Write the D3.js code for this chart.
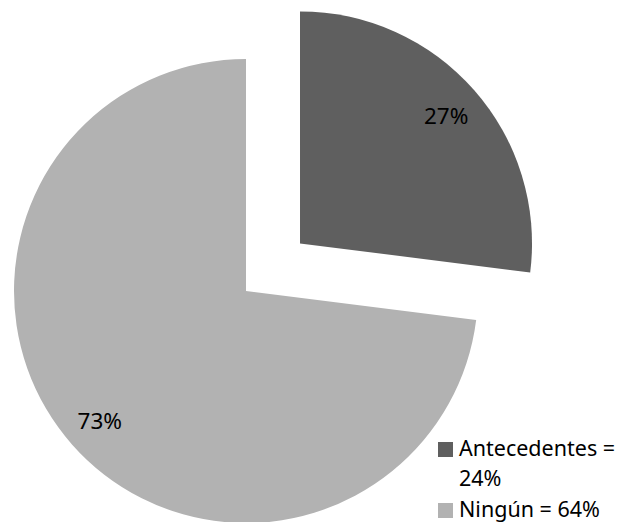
<!DOCTYPE html>
<html>
<head>
<meta charset="utf-8">
<script src="https://cdn.jsdelivr.net/npm/d3@7"></script>
<style>
  html, body { margin: 0; padding: 0; background: #fff; }
  svg { display: block; }
  text { font-family: "Noto Sans", "Open Sans", sans-serif; fill: #000; }
</style>
</head>
<body>
<svg id="chart" width="634" height="522"></svg>
<script>
// Slice categories and their shares (percent)
const categories = ["Antecedentes", "Ningún"];
const values = [27, 73];
const sliceLabels = ["27%", "73%"];
// Legend entries as printed
const legendLines = [["Antecedentes =", "24%"], ["Ningún = 64%"]];
const colors = ["#5f5f5f", "#b2b2b2"];

const svg = d3.select("#chart");
const cx = 246, cy = 291, radius = 232;
const explode = 72;

const pie = d3.pie().sort(null).value(d => d)(values);
const arc = d3.arc().innerRadius(0).outerRadius(radius);
const labelR = radius * 0.84;
const labelArc = d3.arc().innerRadius(labelR).outerRadius(labelR);

const g = svg.append("g").attr("transform", `translate(${cx},${cy})`);

const slices = g.selectAll("g.slice")
  .data(pie)
  .join("g")
  .attr("class", "slice")
  .attr("transform", (d, i) => {
    if (i !== 0) return null;
    const mid = (d.startAngle + d.endAngle) / 2;
    return `translate(${explode * Math.sin(mid)},${-explode * Math.cos(mid)})`;
  });

slices.append("path")
  .attr("d", arc)
  .attr("fill", (d, i) => colors[i]);

slices.append("text")
  .attr("transform", d => `translate(${labelArc.centroid(d)})`)
  .attr("text-anchor", "middle")
  .attr("dy", "0.4em")
  .style("font-size", "22.5px")
  .text((d, i) => sliceLabels[i]);

// Legend
const legend = svg.append("g").attr("transform", "translate(438,0)");
const lineH = 30;
let baseline = 456;
legendLines.forEach((lines, i) => {
  legend.append("rect")
    .attr("x", 0)
    .attr("y", baseline - 14)
    .attr("width", 15)
    .attr("height", 15)
    .attr("fill", colors[i]);
  const t = legend.append("text")
    .attr("x", 21)
    .attr("y", baseline)
    .style("font-size", "21.5px");
  lines.forEach((ln, j) => {
    t.append("tspan")
      .attr("x", 21)
      .attr("dy", j === 0 ? 0 : lineH)
      .text(ln);
  });
  baseline += lines.length * lineH + 1;
});
</script>
</body>
</html>
